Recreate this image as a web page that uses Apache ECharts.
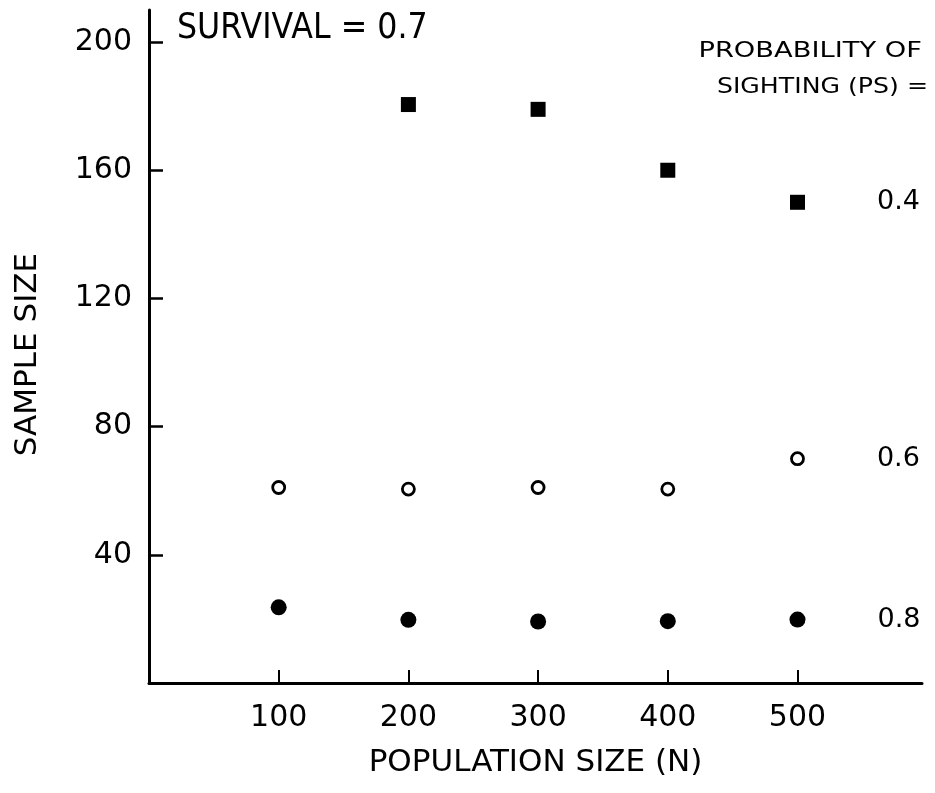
<!DOCTYPE html>
<html>
<head>
<meta charset="utf-8">
<script src="https://cdn.jsdelivr.net/npm/echarts@6/dist/echarts.min.js"></script>
<style>
html,body{margin:0;padding:0;background:#fff;}
#chart{width:935px;height:793px;}
</style>
</head>
<body>
<div id="chart"></div>
<script>
// ---- data ----
const populationSizes = [100, 200, 300, 400, 500];
const ps04 = [null, 180.5, 179, 160, 150];   // filled squares
const ps06 = [61, 60.5, 61, 60.5, 70];        // open circles
const ps08 = [23.6, 19.7, 19.2, 19.3, 19.8];  // filled circles
const psLabels = ['0.4', '0.6', '0.8'];
const xTickValues = [100, 200, 300, 400, 500];
const yTickValues = [40, 80, 120, 160, 200];
const titleText = 'SURVIVAL = 0.7';
const legendLine1 = 'PROBABILITY OF';
const legendLine2 = 'SIGHTING (PS) =';
const xTitle = 'POPULATION SIZE (N)';
const yTitle = 'SAMPLE SIZE';

const FONT = 'DejaVu Sans';
const INK = '#000';

function buildData(values, label) {
  const out = [];
  values.forEach((v, i) => {
    if (v === null) return;
    const item = { value: [populationSizes[i], v] };
    if (i === values.length - 1) {
      item.label = {
        show: true, position: 'right', distance: 72,
        formatter: label, fontFamily: FONT, fontSize: 27, color: INK, opacity: 1
      };
    }
    out.push(item);
  });
  return out;
}

const chart = echarts.init(document.getElementById('chart'), null, { renderer: 'canvas' });
chart.setOption({
  animation: false,
  backgroundColor: '#fff',
  grid: { left: 149, right: 13, top: 10, bottom: 110, containLabel: false },
  xAxis: {
    type: 'value', min: 0, max: 596, interval: 100,
    name: xTitle, nameLocation: 'middle', nameGap: 64,
    nameTextStyle: { fontFamily: FONT, fontSize: 31, color: INK },
    axisLine: { show: true, lineStyle: { color: INK, width: 3 } },
    axisTick: { show: true, inside: true, length: 13, customValues: xTickValues,
                lineStyle: { color: INK, width: 2 } },
    axisLabel: {
      margin: 20, fontFamily: FONT, fontSize: 30, color: INK,
      customValues: xTickValues
    },
    splitLine: { show: false }
  },
  yAxis: {
    type: 'value', min: 0, max: 210, interval: 40,
    name: yTitle, nameLocation: 'middle', nameGap: 106, nameRotate: 90,
    nameTextStyle: { fontFamily: FONT, fontSize: 31, color: INK, padding: [0, 16, 0, 0] },
    axisLine: { show: true, lineStyle: { color: INK, width: 3 } },
    axisTick: { show: true, inside: true, length: 14, customValues: yTickValues,
                lineStyle: { color: INK, width: 2.5 } },
    axisLabel: {
      margin: 17, fontFamily: FONT, fontSize: 30, color: INK,
      customValues: yTickValues
    },
    splitLine: { show: false }
  },
  series: [
    {
      name: 'PS 0.4', type: 'scatter', symbol: 'rect', symbolSize: 15,
      itemStyle: { color: INK, opacity: 1 },
      data: buildData(ps04, psLabels[0])
    },
    {
      name: 'PS 0.6', type: 'scatter', symbol: 'circle', symbolSize: 12,
      itemStyle: { color: '#fff', borderColor: INK, borderWidth: 2.8, opacity: 1 },
      data: buildData(ps06, psLabels[1])
    },
    {
      name: 'PS 0.8', type: 'scatter', symbol: 'circle', symbolSize: 16,
      itemStyle: { color: INK, opacity: 1 },
      data: buildData(ps08, psLabels[2])
    }
  ],
  graphic: [
    {
      type: 'text', x: 177, y: 29, scaleX: 0.88, scaleY: 1,
      style: { text: titleText, font: '36px "' + FONT + '"', fill: INK,
               textAlign: 'left', textVerticalAlign: 'middle' }
    },
    {
      type: 'text', x: 922, y: 52, scaleX: 1.3, scaleY: 1,
      style: { text: legendLine1, font: '21px "' + FONT + '"', fill: INK,
               textAlign: 'right', textVerticalAlign: 'middle' }
    },
    {
      type: 'text', x: 928, y: 88, scaleX: 1.2, scaleY: 1,
      style: { text: legendLine2, font: '21px "' + FONT + '"', fill: INK,
               textAlign: 'right', textVerticalAlign: 'middle' }
    }
  ]
});
</script>
</body>
</html>
